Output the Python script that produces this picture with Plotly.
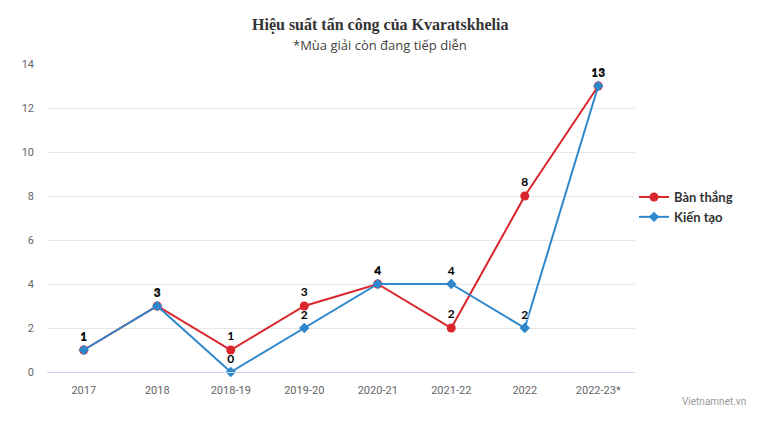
import plotly.graph_objects as go

categories = ["2017", "2018", "2018-19", "2019-20", "2020-21", "2021-22", "2022", "2022-23*"]
ban_thang = [1, 3, 1, 3, 4, 2, 8, 13]
kien_tao = [1, 3, 0, 2, 4, 4, 2, 13]
y_ticks = [0, 2, 4, 6, 8, 10, 12, 14]

red = "#d9262c"
blue = "#2f88cc"
label_font = dict(family="Lato, Arial, sans-serif", size=12, color="#000000", weight="bold",
                  shadow="1px 1px 2px #ffffff")

fig = go.Figure()
fig.add_trace(go.Scatter(
    x=categories, y=ban_thang, name="Bàn thắng", mode="lines+markers+text",
    line=dict(color=red, width=2), marker=dict(symbol="circle", size=9, color=red),
    text=[str(v) for v in ban_thang], textposition="top center", textfont=label_font,
    cliponaxis=False,
))
fig.add_trace(go.Scatter(
    x=categories, y=kien_tao, name="Kiến tạo", mode="lines+markers+text",
    line=dict(color=blue, width=2), marker=dict(symbol="diamond", size=8, color=blue),
    text=[str(v) for v in kien_tao], textposition="top center", textfont=label_font,
    cliponaxis=False,
))

L, T, W, H = 47, 64, 588, 308

fig.update_layout(
    width=760, height=427,
    margin=dict(l=L, r=760 - L - W, t=T, b=427 - T - H, autoexpand=False),
    paper_bgcolor="white", plot_bgcolor="white",
    font=dict(family="Roboto, Arial, sans-serif", color="#666666", size=11),
    showlegend=True,
    legend=dict(x=(634 - L) / W, xanchor="left", y=(T + H - 207) / H, yanchor="middle",
                font=dict(family="Lato, Arial, sans-serif", size=13, color="#333333", weight="bold"),
                tracegroupgap=0, itemwidth=30),
)
fig.add_annotation(text="<b>Hiệu suất tấn công của Kvaratskhelia</b>", xref="paper", yref="paper",
                   x=(380 - L) / W, y=1 + (T - 25) / H, showarrow=False,
                   xanchor="center", yanchor="middle",
                   font=dict(family="Liberation Serif, Times New Roman, serif", size=16, color="#333333"))
fig.add_annotation(text="*Mùa giải còn đang tiếp diễn", xref="paper", yref="paper",
                   x=(380 - L) / W, y=1 + (T - 45) / H, showarrow=False,
                   xanchor="center", yanchor="middle",
                   font=dict(family="Open Sans, Arial, sans-serif", size=13, color="#444444"))
fig.add_annotation(text="Vietnamnet.vn", xref="paper", yref="paper",
                   x=(748 - L) / W, y=-(401 - (T + H)) / H, showarrow=False,
                   xanchor="right", yanchor="middle",
                   font=dict(family="Roboto, Arial, sans-serif", size=10, color="#999999"))

fig.update_xaxes(type="category", showgrid=False, showline=True, linecolor="#ccd6eb",
                 linewidth=1, ticks="", tickfont=dict(size=11, color="#666666"),
                 range=[-0.5, 7.5], ticklabelstandoff=8, automargin=False)
fig.update_yaxes(range=[0, 14], tickvals=y_ticks, showgrid=True, gridcolor="#e6e6e6",
                 zeroline=False, showline=False, ticks="", ticklabelstandoff=12,
                 tickfont=dict(size=11, color="#666666"), automargin=False)

fig.write_html("out.html", config={"displayModeBar": False},
               post_script="document.body.style.margin='0';document.body.style.padding='0';")
